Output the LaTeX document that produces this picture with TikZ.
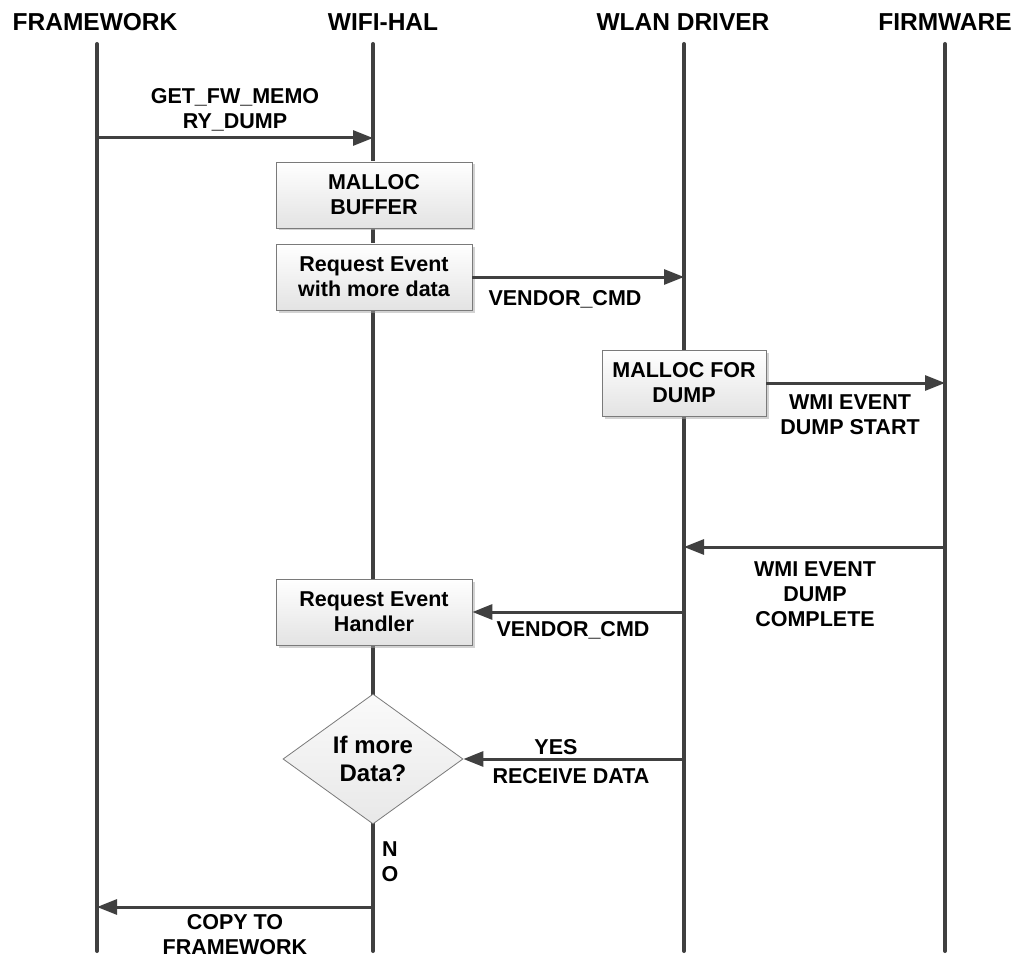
\documentclass[tikz,border=0pt]{standalone}
\usepackage{fontspec}
\setmainfont{Liberation Sans}
\usetikzlibrary{arrows.meta,shapes.geometric,shadows}
\definecolor{ln}{HTML}{404040}
\definecolor{bx}{HTML}{7A7A7A}
\begin{document}
\begin{tikzpicture}[x=1pt,y=-1pt,
  life/.style={line width=4pt,draw=ln,line cap=round},
  msg/.style={line width=3pt,draw=ln,-{Triangle[length=20pt,width=15pt]}},
  hdr/.style={font=\fontsize{24.5}{28}\selectfont\bfseries,inner sep=0pt},
  lbl/.style={font=\fontsize{21.5}{25}\selectfont\bfseries,align=center,inner sep=0pt},
  procbox/.style={draw=bx,line width=0.8pt,top color=white,bottom color=gray!22,
    minimum width=196pt,minimum height=66pt,align=center,inner sep=2pt,
    font=\fontsize{21.5}{25}\selectfont\bfseries,
    drop shadow={shadow xshift=2.5pt,shadow yshift=-2.5pt,fill=black!35,opacity=0.5}},
  decbox/.style={diamond,draw=bx,line width=0.8pt,top color=gray!4,bottom color=gray!18,
    minimum width=180pt,minimum height=130pt,inner sep=0pt,align=center,
    font=\fontsize{24}{28}\selectfont\bfseries}
]
\useasboundingbox[fill=white] (0,0) rectangle (1020,960);

% headers
\node[hdr] (hfw)  at (95,22)  {FRAMEWORK};
\node[hdr] (hhal) at (383,22) {WIFI-HAL};
\node[hdr] (hdrv) at (683,22) {WLAN DRIVER};
\node[hdr] (hfm)  at (945,22) {FIRMWARE};

% lifelines
\coordinate (fwT) at (97,44);   \coordinate (fwB) at (97,951);
\coordinate (halT) at (373,44); \coordinate (halB) at (373,951);
\coordinate (drvT) at (684,44); \coordinate (drvB) at (684,951);
\coordinate (fmT) at (945,44);  \coordinate (fmB) at (945,951);
\draw[life] (fwT) -- (fwB);
\draw[life] (halT) -- (halB);
\draw[life] (drvT) -- (drvB);
\draw[life] (fmT) -- (fmB);

% boxes
\node[procbox] (malloc) at (374,195) {MALLOC\\BUFFER};
\node[procbox] (reqA) at (374,277) {Request Event\\with more data};
\node[procbox,minimum width=164pt] (mdump) at (684,383) {MALLOC FOR\\DUMP};
\node[procbox] (reqH) at (374,612) {Request Event\\Handler};
\node[decbox] (dec) at (373,759) {If more\\Data?};

% message end points
\coordinate (m1s) at (97,138);  \coordinate (m1e) at (373,138);
\coordinate (m2e) at (684,277);
\coordinate (m3e) at (945,383);
\coordinate (m4s) at (945,547); \coordinate (m4e) at (684,547);
\coordinate (m5s) at (684,612);
\coordinate (m6s) at (684,759);
\coordinate (m7s) at (373,907); \coordinate (m7e) at (97,907);

% messages
\draw[msg] (m1s) -- (m1e);
\draw[msg] (reqA.east) -- (m2e);
\draw[msg] (mdump.east) -- (m3e);
\draw[msg] (m4s) -- (m4e);
\draw[msg] (m5s) -- (reqH.east);
\draw[msg] (m6s) -- (dec.east);
\draw[msg] (m7s) -- (m7e);

% labels
\node[lbl] (l1) at (235,110) {GET\_FW\_MEMO\\RY\_DUMP};
\node[lbl] (l2) at (565,299) {VENDOR\_CMD};
\node[lbl] (l3) at (850,415) {WMI EVENT\\DUMP START};
\node[lbl] (l4) at (815,594) {WMI EVENT\\DUMP\\COMPLETE};
\node[lbl] (l5) at (573,630) {VENDOR\_CMD};
\node[lbl] (l6) at (556,747) {YES};
\node[lbl] (l7) at (571,776) {RECEIVE DATA};
\node[lbl] (l8) at (390,862) {N\\O};
\node[lbl] (l9) at (235,935) {COPY TO\\FRAMEWORK};
\end{tikzpicture}
\end{document}
